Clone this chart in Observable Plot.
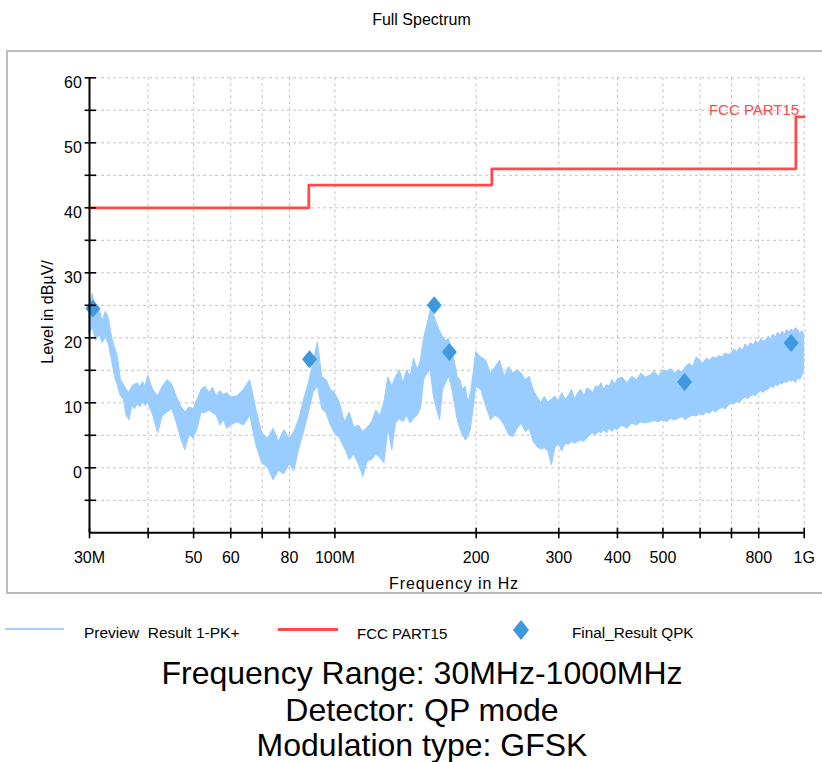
<!DOCTYPE html>
<html><head><meta charset="utf-8">
<script src="https://cdn.jsdelivr.net/npm/d3@7"></script>
<script src="https://cdn.jsdelivr.net/npm/@observablehq/plot@0.6"></script>
<style>
html,body{margin:0;padding:0;background:#fff;}
body{width:822px;height:762px;overflow:hidden;position:relative;font-family:"Liberation Sans",Arial,sans-serif;color:#000;}
.abs{position:absolute;white-space:pre;line-height:1;}
#frame{position:absolute;left:6px;top:50px;width:900px;height:544px;border:2px solid #bcbcbc;box-sizing:border-box;}
#chart{position:absolute;left:0;top:0;}
</style></head><body>
<div id="frame"></div>
<div id="chart"></div>
<div class="abs" style="font-size:16px;left:0;width:843px;text-align:center;top:11.5px">Full Spectrum</div>
<div class="abs" style="font-size:16px;left:-52.5px;width:200px;height:16px;text-align:center;top:303.5px;transform:rotate(-90deg);">Level in dBµV/</div>
<div class="abs" style="font-size:16px;left:0;width:908px;text-align:center;top:575.5px;letter-spacing:0.9px">Frequency in Hz</div>

<div class="abs" style="left:5px;top:628px;width:59px;height:2px;background:#a6d0fb"></div>
<div class="abs" style="font-size:15.5px;left:84px;top:625.2px">Preview  Result 1-PK+</div>
<div class="abs" style="left:278px;top:627.5px;width:60px;height:3px;background:#ff4a4a"></div>
<div class="abs" style="font-size:15px;left:357px;top:625.6px">FCC PART15</div>
<svg class="abs" style="left:513px;top:620px" width="16" height="20"><polygon points="8,0 16,10 8,20 0,10" fill="#3d98de"/></svg>
<div class="abs" style="font-size:15.3px;left:572px;top:625.4px">Final_Result QPK</div>

<div class="abs" style="font-size:32px;left:0;width:844px;text-align:center;top:657px">Frequency Range: 30MHz-1000MHz</div>
<div class="abs" style="font-size:32px;left:0;width:844px;text-align:center;top:693.5px">Detector: QP mode</div>
<div class="abs" style="font-size:32px;left:0;width:844px;text-align:center;top:728.5px">Modulation type: GFSK</div>

<script>
// ---- data ----
const xDomain = [30, 1000];
const yDomain = [-10, 60];
const xTickValues = [30, 40, 50, 60, 70, 80, 100, 200, 300, 400, 500, 600, 700, 800, 1000];
const xTickLabels = ["30M", "", "50", "60", "", "80", "100M", "200", "300", "400", "500", "", "", "800", "1G"];
const yTickValues = [-5, 0, 5, 10, 15, 20, 25, 30, 35, 40, 45, 50, 55, 60];
const yLabelValues = [0, 10, 20, 30, 40, 50, 60];

// Preview Result 1-PK+ envelope (MHz, dBµV)
const freqMHz = [
  30,30.5,31,31.5,32,32.5,33,33.5,34,34.5,35,35.5,36,36.5,37,37.5,38,38.5,39,39.5,40,
  41,42,43,44,45,46,47,48,49,50,51,52,53,54,55,56,57,58,59,60,
  62,64,66,68,70,72,74,76,78,80,82,84,86,88,90,92,94,96,98,100,
  102.5,105,107.5,110,112.5,115,117.5,120,122.5,125,127.5,130,132.5,135,137.5,140,142.5,145,147.5,150,
  152.5,155,157.5,160,162.5,165,167.5,170,172.5,175,177.5,180,182.5,185,187.5,190,192.5,195,197.5,200,
  205,210,215,220,225,230,235,240,245,250,255,260,265,270,275,280,285,290,295,300,
  305,310,315,320,325,330,335,340,345,350,355,360,365,370,375,380,385,390,395,400,
  410,420,430,440,450,460,470,480,490,500,510,520,530,540,550,560,570,580,590,600,
  610,620,630,640,650,660,670,680,690,700,710,720,730,740,750,760,770,780,790,800,
  810,820,830,840,850,860,870,880,890,900,910,920,930,940,950,960,970,980,990,1000
];
const peakHi = [
  25.0,26.8,23.5,24.5,22.5,24.0,23.0,20.0,18.5,17.0,13.5,12.8,12.0,11.5,12.5,12.8,13.0,12.4,13.2,12.5,14.2,
  12.0,11.0,12.5,13.5,12.8,11.0,9.5,8.5,9.3,9.0,10.5,12.0,12.5,11.5,12.3,11.0,11.8,11.2,11.5,10.8,
  11.0,12.0,13.5,9.0,5.3,4.5,6.0,4.0,5.8,4.5,5.5,7.5,10.5,13.0,16.1,19.3,14.0,13.5,12.0,11.5,
  10.0,7.0,8.5,6.2,6.5,5.5,6.2,7.0,8.8,8.0,10.0,13.9,12.5,14.0,15.0,13.0,15.0,14.0,16.8,15.0,
  16.5,20.0,22.0,24.2,23.5,22.2,21.0,20.1,19.5,19.8,18.0,16.5,14.0,13.5,12.0,12.5,10.0,11.5,14.5,17.8,
  17.0,16.5,14.5,15.5,16.5,14.0,15.5,14.5,15.0,14.5,13.5,14.0,12.0,10.9,10.0,10.9,10.0,10.5,11.0,10.2,
  11.5,10.5,11.0,12.0,10.5,11.5,12.0,11.0,12.2,12.0,11.5,12.5,12.4,13.0,12.0,12.8,12.4,13.5,12.8,13.5,
  13.9,13.0,14.0,13.5,14.5,13.9,14.2,14.8,14.0,15.0,14.7,15.2,14.5,15.0,14.7,15.5,16.0,15.5,17.0,16.5,
  16.0,16.8,16.5,17.0,16.8,17.2,17.0,17.6,17.3,17.6,18.2,17.8,18.5,18.0,19.0,18.5,19.2,18.8,19.5,19.0,
  19.8,19.4,19.6,20.2,19.8,20.5,20.0,20.8,20.3,21.0,20.5,21.2,20.8,21.3,20.9,21.5,21.2,20.6,21.0,20.5
];
const peakLo = [
  20.6,21.5,19.5,20.5,19.2,20.0,19.0,16.5,14.0,12.5,11.0,10.5,8.0,7.3,9.5,9.0,9.8,9.3,10.0,9.5,10.0,
  8.0,5.3,8.0,8.5,9.0,7.0,4.5,2.7,5.0,4.5,6.0,8.5,8.4,8.8,8.4,8.0,6.5,7.3,6.0,6.5,
  7.0,6.5,8.0,3.5,0.7,0.0,-1.9,-0.5,-1.0,0.5,-0.5,3.0,5.5,8.4,11.5,12.5,9.0,8.4,6.5,5.3,
  4.5,3.0,1.2,2.0,0.5,-1.4,1.0,1.2,2.0,1.5,0.7,6.0,2.7,6.8,7.5,7.0,8.0,6.8,7.5,8.0,
  9.0,13.5,14.5,15.0,11.0,9.0,7.3,12.0,13.0,14.0,12.5,10.0,7.5,6.0,5.0,4.2,4.7,6.0,9.0,12.4,
  12.0,9.5,7.3,8.0,7.5,6.5,5.0,4.7,6.0,6.8,5.5,6.0,4.0,3.2,2.8,3.0,2.5,0.4,3.0,3.7,
  2.5,3.7,3.5,4.0,3.7,4.0,4.2,4.0,4.5,5.0,5.3,5.0,5.5,5.3,5.8,5.3,6.0,5.5,6.0,5.8,
  6.5,6.0,6.8,6.5,7.0,6.8,7.0,7.2,7.0,7.3,7.0,7.5,7.3,7.5,7.8,7.3,7.8,8.0,7.9,8.3,
  8.0,8.5,8.3,8.8,8.5,9.0,9.2,9.0,9.5,9.9,9.7,10.2,10.0,10.5,10.8,10.5,11.0,11.2,11.0,11.5,
  11.8,11.5,11.9,12.0,12.5,12.2,12.8,12.5,13.0,12.8,13.2,13.0,13.5,13.2,13.5,13.0,13.8,13.5,14.0,15.0
];

// FCC PART15 limit
const limitName = "FCC PART15";
const limitFreq = [30, 88, 88, 216, 216, 960, 960, 1000];
const limitLevel = [40, 40, 43.5, 43.5, 46, 46, 54, 54];

// Final_Result QPK
const finalFreq = [30.5, 88.3, 162.8, 175.4, 556, 938];
const finalLevel = [24.5, 16.7, 25.0, 17.8, 13.2, 19.2];

// ---- build ----
const trace = freqMHz.map((f, i) => ({f, hi: peakHi[i], lo: peakLo[i]}));
const limit = limitFreq.map((f, i) => ({f, v: limitLevel[i]}));
const finals = finalFreq.map((f, i) => ({f, v: finalLevel[i]}));
const xLabels = xTickValues.map((v, i) => ({v, label: xTickLabels[i]}));

const tallDiamond = {
  draw(ctx, size) {
    const r = Math.sqrt(size / Math.PI);
    const w = r * 0.83;
    ctx.moveTo(0, -r); ctx.lineTo(w, 0); ctx.lineTo(0, r); ctx.lineTo(-w, 0); ctx.closePath();
  }
};

const gridStyle = {stroke: "#c4c4c4", strokeOpacity: 1, strokeWidth: 1, strokeDasharray: "3,3"};

const chart = Plot.plot({
  width: 822, height: 600,
  marginLeft: 89, marginRight: 18.3, marginTop: 77.3, marginBottom: 67.7,
  x: {type: "log", domain: xDomain},
  y: {domain: yDomain},
  style: {background: "transparent", fontFamily: '"Liberation Sans", Arial, sans-serif', fontSize: "16px", color: "#000", overflow: "visible"},
  marks: [
    Plot.gridX(xTickValues, gridStyle),
    Plot.gridY(yTickValues, gridStyle),
    Plot.areaY(trace, {x: "f", y1: "lo", y2: "hi", fill: "#99ccff", stroke: "#99ccff", strokeWidth: 1}),
    Plot.line(limit, {x: "f", y: "v", stroke: "#ff4a4a", strokeWidth: 2.8}),
    Plot.text(limit.slice(-1), {x: "f", y: "v", text: () => limitName, textAnchor: "end", lineAnchor: "bottom", dx: -5, dy: -1.5, fill: "#ff4a4a", fontSize: 15}),
    Plot.dot(finals, {x: "f", y: "v", r: 9, symbol: tallDiamond, fill: "#3d98de", stroke: "none"}),
    Plot.ruleX([xDomain[0]], {stroke: "#000", strokeWidth: 2}),
    Plot.ruleY([yDomain[0]], {stroke: "#000", strokeWidth: 2}),
    Plot.axisX(xTickValues, {tickSize: 10.6, dy: -4.6, tickFormat: () => "", strokeWidth: 1.6, label: null}),
    Plot.text(xLabels, {x: "v", text: "label", frameAnchor: "bottom", lineAnchor: "top", dy: 18.7, fontSize: 16, fill: "#000"}),
    Plot.axisY(yTickValues, {tickSize: 11.4, dx: 7, tickFormat: () => "", strokeWidth: 1.6, label: null}),
    Plot.axisY(yLabelValues, {tickSize: 0, tickPadding: 7.7, dy: 5, fontSize: 16, label: null})
  ]
});
document.getElementById("chart").appendChild(chart);
</script>
</body></html>
